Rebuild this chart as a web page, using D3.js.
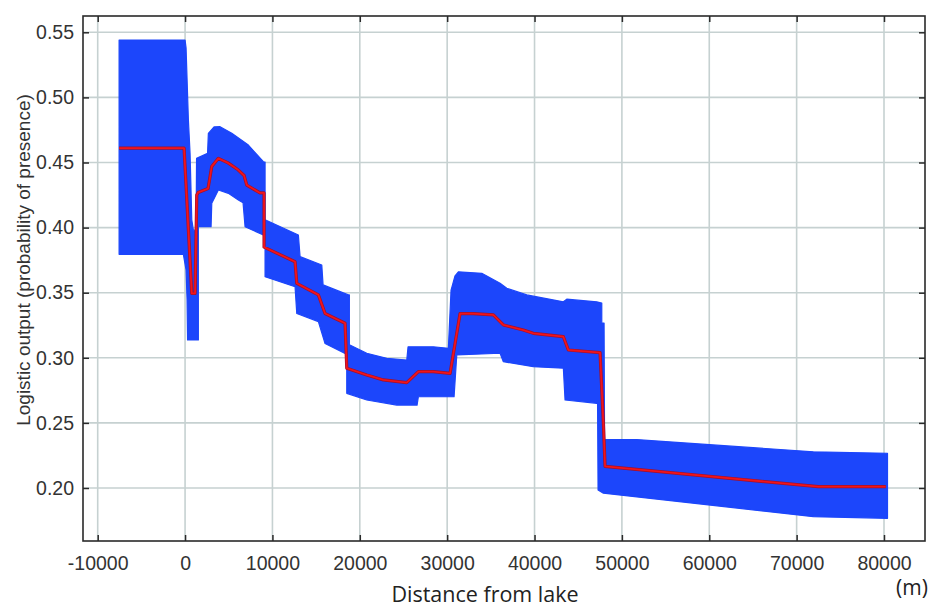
<!DOCTYPE html>
<html><head><meta charset="utf-8">
<script src="https://cdn.jsdelivr.net/npm/d3@7"></script>
<style>html,body{margin:0;padding:0;background:#fff;}svg{display:block;}</style>
</head><body>
<script>
// ---- data ----
const xTicks = [-10000, 0, 10000, 20000, 30000, 40000, 50000, 60000, 70000, 80000];
const yTicks = [0.20, 0.25, 0.30, 0.35, 0.40, 0.45, 0.50, 0.55];

// upper bound of the blue band
const upperX = [-7550, 0, 114, 378, 572, 767, 950, 1259, 1316, 2575, 2667, 3319, 4006, 5345, 7245, 8962, 9157, 9157, 12968, 13163, 15647, 15796, 18692, 18806, 18806, 20797, 23086, 25376, 25524, 28420, 30137, 30446, 30904, 31282, 33960, 36055, 36822, 39111, 43300, 43689, 47123, 47696, 47696, 47959, 48016, 51700, 71916, 80400];
const upperY = [0.544, 0.544, 0.538, 0.483, 0.457, 0.406, 0.398, 0.398, 0.4532, 0.457, 0.4724, 0.4773, 0.4775, 0.4724, 0.4634, 0.4506, 0.4504, 0.406, 0.3943, 0.3777, 0.3713, 0.356, 0.3483, 0.3483, 0.310, 0.3035, 0.2996, 0.2983, 0.3085, 0.3085, 0.3073, 0.352, 0.363, 0.366, 0.3649, 0.3572, 0.3534, 0.3483, 0.343, 0.345, 0.343, 0.342, 0.3267, 0.3267, 0.2374, 0.2372, 0.2278, 0.2267];

// lower bound of the blue band
const lowerX = [-7550, -195, 114, 229, 286, 1522, 1522, 2976, 3056, 3811, 4956, 6101, 6639, 6868, 8962, 9157, 9157, 12590, 12785, 15258, 16024, 18313, 18508, 18508, 20797, 24231, 26555, 26704, 30790, 31100, 36055, 36433, 39867, 43300, 43494, 47123, 47215, 47272, 47879, 71916, 80400];
const lowerY = [0.3795, 0.3795, 0.3675, 0.3445, 0.3137, 0.3137, 0.4007, 0.4007, 0.4187, 0.4289, 0.4263, 0.4212, 0.419, 0.4007, 0.3943, 0.3943, 0.3623, 0.3546, 0.334, 0.3278, 0.311, 0.3034, 0.3034, 0.2727, 0.2676, 0.2637, 0.2637, 0.2701, 0.2701, 0.3022, 0.3035, 0.297, 0.2932, 0.292, 0.2676, 0.265, 0.265, 0.1985, 0.196, 0.178, 0.1767];

// mean response (red line)
const meanX = [-7550, -114, 767, 1145, 1340, 1500, 2632, 3056, 3811, 4922, 6066, 6753, 7062, 8585, 9042, 9042, 12590, 12785, 15258, 16024, 18313, 18508, 20797, 22697, 25376, 26704, 28420, 30332, 31476, 32999, 35288, 36433, 38722, 39867, 43300, 43873, 47500, 47880, 48073, 72488, 80200];
const meanY = [0.461, 0.461, 0.3495, 0.3495, 0.425, 0.427, 0.430, 0.447, 0.4532, 0.4497, 0.4444, 0.44, 0.4327, 0.4266, 0.4266, 0.385, 0.3738, 0.3572, 0.3483, 0.334, 0.3265, 0.292, 0.2868, 0.283, 0.2809, 0.2894, 0.2894, 0.288, 0.334, 0.334, 0.3329, 0.3252, 0.3213, 0.3188, 0.3162, 0.306, 0.3040, 0.2497, 0.2166, 0.201, 0.201];

const xLabel = "Distance from lake";
const yLabel = "Logistic output (probability of presence)";
const unitLabel = "(m)";

// ---- drawing ----
const W = 941, H = 613;
const box = {left: 83, top: 16, right: 925, bottom: 541};
const svg = d3.select("body").append("svg").attr("width", W).attr("height", H);

const x = d3.scaleLinear().domain([-10000, 80000]).range([97.7, 884]);
const y = d3.scaleLinear().domain([0.20, 0.55]).range([488, 32.3]);

const gridColor = "#c6d1d1";
const g = svg.append("g");

// grid
g.selectAll("line.gx").data(xTicks).join("line")
  .attr("x1", d => x(d)).attr("x2", d => x(d))
  .attr("y1", box.top).attr("y2", box.bottom)
  .attr("stroke", gridColor).attr("stroke-width", 1.6);
g.selectAll("line.gy").data(yTicks).join("line")
  .attr("y1", d => y(d)).attr("y2", d => y(d))
  .attr("x1", box.left).attr("x2", box.right)
  .attr("stroke", gridColor).attr("stroke-width", 1.6);

// band
const upperPts = upperX.map((v, i) => [v, upperY[i]]);
const lowerPts = lowerX.map((v, i) => [v, lowerY[i]]).reverse();
const poly = upperPts.concat(lowerPts);
const line = d3.line().x(d => x(d[0])).y(d => y(d[1]));
g.append("path").attr("d", line(poly) + "Z")
  .attr("fill", "#1c46fb").attr("stroke", "#1c46fb").attr("stroke-width", 1.2)
  .attr("stroke-linejoin", "round");

// mean line
const meanPts = meanX.map((v, i) => [v, meanY[i]]);
g.append("path").attr("d", line(meanPts))
  .attr("fill", "none").attr("stroke", "#a0102c").attr("stroke-width", 3.2)
  .attr("stroke-linejoin", "round");
g.append("path").attr("d", line(meanPts))
  .attr("fill", "none").attr("stroke", "#f0141c").attr("stroke-width", 1.8)
  .attr("stroke-linejoin", "round");

// axes with inward ticks on all sides
const tickLen = 6;
const fontTick = "'Liberation Sans', Arial, sans-serif";
const axB = d3.axisBottom(x).tickValues(xTicks).tickSize(-tickLen).tickPadding(15).tickFormat(d => String(d));
const axT = d3.axisTop(x).tickValues(xTicks).tickSize(-tickLen).tickFormat("");
const axL = d3.axisLeft(y).tickValues(yTicks).tickSize(-tickLen).tickPadding(9).tickFormat(d3.format(".2f"));
const axR = d3.axisRight(y).tickValues(yTicks).tickSize(-tickLen).tickFormat("");

function styleAxis(sel) {
  sel.select(".domain").remove();
  sel.selectAll(".tick line").attr("stroke", "#2a2a2a").attr("stroke-width", 1.5);
  sel.selectAll(".tick text").attr("fill", "#333").style("font-family", fontTick).style("font-size", "19.5px");
}
svg.append("g").attr("transform", `translate(0,${box.bottom})`).call(axB).call(styleAxis);
svg.append("g").attr("transform", `translate(0,${box.top})`).call(axT).call(styleAxis);
svg.append("g").attr("transform", `translate(${box.left},0)`).call(axL).call(styleAxis);
svg.append("g").attr("transform", `translate(${box.right},0)`).call(axR).call(styleAxis);

// frame
svg.append("rect").attr("x", box.left).attr("y", box.top)
  .attr("width", box.right - box.left).attr("height", box.bottom - box.top)
  .attr("fill", "none").attr("stroke", "#2a2a2a").attr("stroke-width", 1.6);

// labels
svg.append("text").attr("x", 485).attr("y", 602)
  .attr("text-anchor", "middle").attr("fill", "#222")
  .style("font-family", "'Open Sans', 'Noto Sans', sans-serif").style("font-size", "21.5px")
  .text(xLabel);
svg.append("text").attr("x", 912).attr("y", 595)
  .attr("text-anchor", "middle").attr("fill", "#222")
  .style("font-family", "'Open Sans', 'Noto Sans', sans-serif").style("font-size", "21px")
  .text(unitLabel);
svg.append("text")
  .attr("transform", "translate(29.5,260) rotate(-90)")
  .attr("text-anchor", "middle").attr("fill", "#333")
  .style("font-family", fontTick).style("font-size", "19px")
  .text(yLabel);
</script>
</body></html>
